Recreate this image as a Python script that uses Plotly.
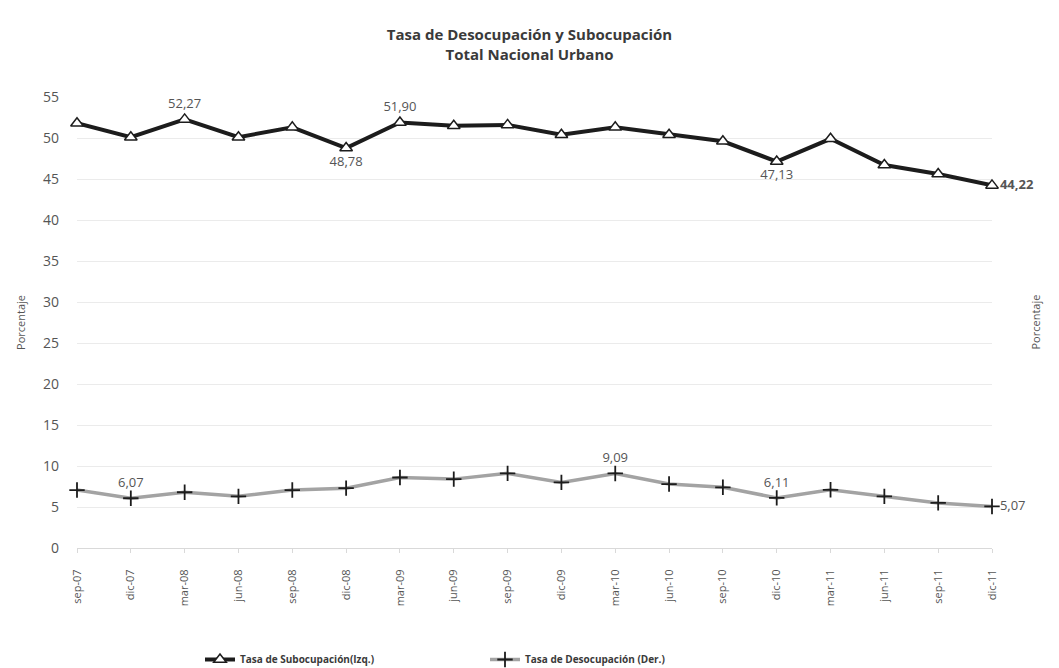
import plotly.graph_objects as go

categories = ["sep-07", "dic-07", "mar-08", "jun-08", "sep-08", "dic-08", "mar-09", "jun-09",
              "sep-09", "dic-09", "mar-10", "jun-10", "sep-10", "dic-10", "mar-11", "jun-11",
              "sep-11", "dic-11"]
subocupacion = [51.8, 50.1, 52.27, 50.1, 51.3, 48.78, 51.90, 51.5, 51.6, 50.4, 51.3, 50.4,
                49.6, 47.13, 49.9, 46.7, 45.6, 44.22]
desocupacion = [7.07, 6.07, 6.8, 6.3, 7.07, 7.3, 8.6, 8.4, 9.1, 8.0, 9.09, 7.8, 7.4, 6.11,
                7.1, 6.3, 5.5, 5.07]

sub_labels = {2: "top center", 5: "bottom center", 6: "top center", 13: "bottom center", 17: "middle right"}
des_labels = {1: "top center", 10: "top center", 13: "top center", 17: "middle right"}

def fmt(v):
    return f"{v:.2f}".replace(".", ",")

sub_text = [(f"<b>{fmt(v)}</b>" if i == 17 else fmt(v)) if i in sub_labels else "" for i, v in enumerate(subocupacion)]
sub_pos = [sub_labels.get(i, "top center") for i in range(len(subocupacion))]
des_text = [fmt(v) if i in des_labels else "" for i, v in enumerate(desocupacion)]
des_pos = [des_labels.get(i, "top center") for i in range(len(desocupacion))]

FONT = "'Open Sans', sans-serif"

fig = go.Figure()
fig.add_trace(go.Scatter(
    x=categories, y=subocupacion, name="<b>Tasa de Subocupación(Izq.)</b>",
    mode="lines+markers+text", text=sub_text, textposition=sub_pos,
    textfont=dict(size=13, color="#555555", family=FONT),
    line=dict(color="#1c1c1c", width=4),
    marker=dict(symbol="triangle-up", size=11, color="white", line=dict(color="#1c1c1c", width=1.5)),
    cliponaxis=False,
))
fig.add_trace(go.Scatter(
    x=categories, y=desocupacion, name="<b>Tasa de Desocupación (Der.)</b>",
    mode="lines+markers+text", text=des_text, textposition=des_pos,
    textfont=dict(size=13, color="#555555", family=FONT),
    line=dict(color="#a3a3a3", width=3.5),
    marker=dict(symbol="cross-thin", size=11, color="#1c1c1c", line=dict(color="#1c1c1c", width=1.8)),
    cliponaxis=False,
))

L, R, T, B = 77, 67, 97, 120
W, H = 1059, 668
pw = W - L - R

fig.update_layout(
    width=W, height=H,
    margin=dict(l=L, r=R, t=T, b=B),
    paper_bgcolor="white", plot_bgcolor="white",
    font=dict(family=FONT, color="#555555", size=12),
    title=dict(text="<b>Tasa de Desocupación y Subocupación<br>Total Nacional Urbano</b>",
               x=0.5, xref="container", xanchor="center", y=1 - 40 / H, yanchor="top",
               font=dict(size=15, color="#3a3a3a", family=FONT)),
    xaxis=dict(type="category", range=[0, len(categories) - 1], tickangle=-90,
               showgrid=False, showline=True, linecolor="#d9d9d9", linewidth=1,
               ticks="outside", ticklen=4, tickcolor="#d9d9d9", ticklabelstandoff=12,
               tickfont=dict(size=11, color="#555555")),
    yaxis=dict(range=[0, 55], dtick=5, showgrid=True, gridcolor="#ebebeb", gridwidth=1,
               zeroline=False, showline=False, ticklabelstandoff=17,
               tickfont=dict(size=14, color="#555555"),
               title=dict(text="Porcentaje", font=dict(size=11, color="#555555"), standoff=15)),
    legend=dict(orientation="h", xref="container", x=200 / W, xanchor="left",
                yref="container", y=1 - 645 / H, yanchor="top",
                entrywidth=240, entrywidthmode="pixels",
                font=dict(size=10, color="#3a3a3a", family=FONT), itemwidth=30),
    showlegend=True,
    annotations=[dict(text="Porcentaje", textangle=-90, xref="paper", yref="paper",
                      x=(1035 - L) / pw, y=0.5, xanchor="center", yanchor="middle",
                      showarrow=False, font=dict(size=11, color="#555555"))],
)
fig.write_html("out.html")
